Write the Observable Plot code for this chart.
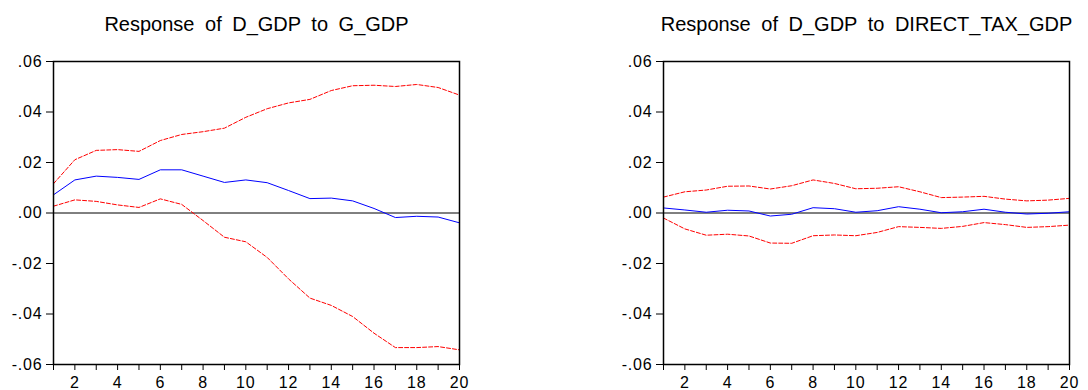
<!DOCTYPE html>
<html>
<head>
<meta charset="utf-8">
<script src="https://cdn.jsdelivr.net/npm/d3@7"></script>
<script src="https://cdn.jsdelivr.net/npm/@observablehq/plot@0.6"></script>
<style>
  html, body { margin: 0; padding: 0; background: #fff; }
  #wrap { position: relative; width: 1088px; height: 390px; overflow: hidden; }
  .panel { position: absolute; top: 0; }
  .panel g[aria-label="text"] text { word-spacing: 5px; }
  .panel g[aria-label="x-axis tick label"], .panel g[aria-label="x-axis tick label"] text,
  .panel g[aria-label="y-axis tick label"], .panel g[aria-label="y-axis tick label"] text {
    font-size: 16px; letter-spacing: 0.8px;
  }
</style>
</head>
<body>
<div id="wrap"></div>
<script>
const steps = [1,2,3,4,5,6,7,8,9,10,11,12,13,14,15,16,17,18,19,20];
const yTicks = [-0.06, -0.04, -0.02, 0.00, 0.02, 0.04, 0.06];

const titleLeft = "Response of D_GDP to G_GDP";
const leftResp  = [0.0072,0.0131,0.0146,0.0141,0.0133,0.0171,0.0171,0.0146,0.0121,0.0131,0.0120,0.0089,0.0057,0.0059,0.0048,0.0018,-0.0018,-0.0013,-0.0016,-0.0039];
const leftUpper = [0.0116,0.0211,0.0248,0.0251,0.0244,0.0287,0.0311,0.0322,0.0336,0.0379,0.0413,0.0436,0.0450,0.0485,0.0504,0.0506,0.0501,0.0509,0.0497,0.0467];
const leftLower = [0.0027,0.0052,0.0046,0.0032,0.0022,0.0056,0.0034,-0.0030,-0.0096,-0.0114,-0.0176,-0.0261,-0.0337,-0.0366,-0.0410,-0.0476,-0.0533,-0.0533,-0.0529,-0.0542];

const titleRight = "Response of D_GDP to DIRECT_TAX_GDP";
const rightResp  = [0.0020,0.0012,0.0003,0.0011,0.0008,-0.0012,-0.0005,0.0021,0.0017,0.0003,0.0009,0.0025,0.0015,0.0001,0.0005,0.0015,0.0003,-0.0004,-0.0001,0.0005];
const rightUpper = [0.0063,0.0084,0.0091,0.0106,0.0107,0.0095,0.0108,0.0131,0.0117,0.0096,0.0098,0.0104,0.0084,0.0061,0.0063,0.0066,0.0055,0.0048,0.0051,0.0058];
const rightLower = [-0.0020,-0.0063,-0.0088,-0.0084,-0.0091,-0.0119,-0.0120,-0.0090,-0.0087,-0.0090,-0.0077,-0.0054,-0.0057,-0.0061,-0.0053,-0.0038,-0.0046,-0.0057,-0.0054,-0.0048];

function fmtY(v) {
  const s = d3.format(".2f")(Math.abs(v) < 1e-9 ? 0 : v).replace("\u2212", "-");
  return s.replace(/^(-?)0\./, "$1.");
}

function panel(title, resp, upper, lower, left, mLeft, mRight) {
  const rows = k => steps.map((s, i) => ({x: s, y: k[i]}));
  const chart = Plot.plot({
    width: 544,
    height: 390,
    marginLeft: mLeft,
    marginRight: mRight,
    marginTop: 61,
    marginBottom: 26,
    style: {fontFamily: "Arial, 'Liberation Sans', sans-serif", fontSize: "16px", background: "white", color: "#000", overflow: "visible"},
    x: {domain: [1, 20], label: null},
    y: {domain: [-0.06, 0.06], label: null},
    marks: [
      Plot.ruleY([0], {stroke: "#000", strokeWidth: 1}),
      Plot.line(rows(upper), {x: "x", y: "y", stroke: "#ff0000", strokeWidth: 1, strokeDasharray: "4,2"}),
      Plot.line(rows(lower), {x: "x", y: "y", stroke: "#ff0000", strokeWidth: 1, strokeDasharray: "4,2"}),
      Plot.line(rows(resp), {x: "x", y: "y", stroke: "#0000ff", strokeWidth: 1}),
      Plot.frame({stroke: "#000", strokeWidth: 1.5}),
      Plot.axisX({ticks: steps, tickFormat: d => (d % 2 === 0 ? String(d) : ""), tickSize: 6, tickPadding: 6, label: null, stroke: "#000", strokeOpacity: 1, fontSize: 16}),
      Plot.axisY({ticks: yTicks, tickFormat: fmtY, tickSize: 7, tickPadding: 4, label: null, stroke: "#000", strokeOpacity: 1, fontSize: 16}),
      Plot.text([title], {frameAnchor: "top", dy: -45, text: d => d, fontSize: 20, fill: "#000"})
    ]
  });
  chart.classList.add("panel");
  chart.style.left = left + "px";
  document.getElementById("wrap").appendChild(chart);
}

panel(titleLeft, leftResp, leftUpper, leftLower, 0, 53, 85);
panel(titleRight, rightResp, rightUpper, rightLower, 544, 119, 19);
</script>
</body>
</html>
